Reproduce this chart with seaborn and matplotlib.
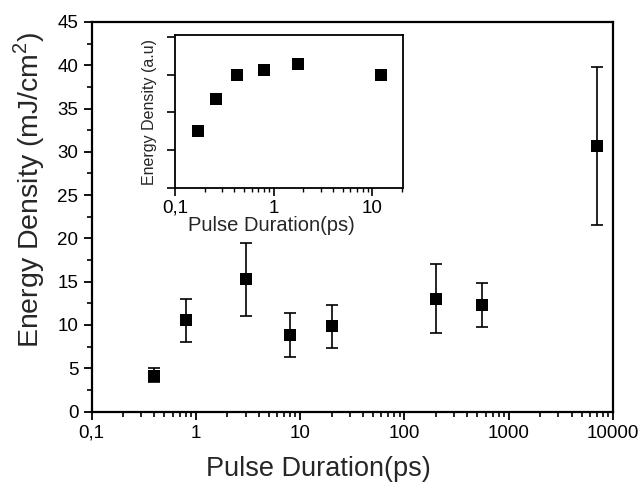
import numpy as np
import pandas as pd
import matplotlib
matplotlib.use("Agg")
import matplotlib.pyplot as plt
import seaborn as sns
from matplotlib.ticker import LogLocator, MultipleLocator, NullFormatter

# Main data
pulse_ps = [0.4, 0.8, 3, 8, 20, 200, 550, 7000]
energy = [4.15, 10.55, 15.3, 8.8, 9.85, 13.0, 12.25, 30.65]
err_low = [3.38, 8.03, 11.07, 6.33, 7.3, 9.1, 9.76, 21.58]
err_high = [5.03, 13.03, 19.5, 11.35, 12.3, 17.04, 14.8, 39.77]

# Inset data
inset_pulse = [0.17, 0.26, 0.43, 0.80, 1.75, 12.2]
inset_energy = [1.52, 2.36, 2.99, 3.12, 3.28, 3.00]

main_xticks = [0.1, 1, 10, 100, 1000, 10000]
main_xticklabels = ["0,1", "1", "10", "100", "1000", "10000"]
inset_xticks = [0.1, 1, 10]
inset_xticklabels = ["0,1", "1", "10"]

sns.set_style("ticks")
plt.rcParams['font.family'] = ['Liberation Sans', 'DejaVu Sans']
plt.rcParams['mathtext.fontset'] = 'custom'
plt.rcParams['mathtext.rm'] = 'Liberation Sans'

fig = plt.figure(figsize=(6.44, 4.91), dpi=100)
ax = fig.add_axes([0.1422, 0.1619, 0.8097, 0.7933])

df = pd.DataFrame({"x": pulse_ps, "y": energy,
                   "lo": err_low, "hi": err_high})
yerr = np.vstack([df["y"] - df["lo"], df["hi"] - df["y"]])
ax.errorbar(df["x"], df["y"], yerr=yerr, fmt="none", ecolor="black",
            elinewidth=1.2, capsize=4, capthick=1.2, zorder=2)
sns.scatterplot(data=df, x="x", y="y", marker="s", s=64, color="black",
                edgecolor="black", linewidth=0, ax=ax, zorder=3)
ax.set_xscale("log")
ax.set_xlim(0.1, 10000)
ax.set_ylim(0, 45)
ax.set_xticks(main_xticks)
ax.set_xticklabels(main_xticklabels)
ax.xaxis.set_minor_locator(LogLocator(base=10, subs=np.arange(2, 10)))
ax.xaxis.set_minor_formatter(NullFormatter())
ax.yaxis.set_major_locator(MultipleLocator(5))
ax.yaxis.set_minor_locator(MultipleLocator(2.5))
ax.tick_params(axis="both", which="major", direction="out", length=6,
               width=1.3, labelsize=13.5, color="black", labelcolor="black")
ax.tick_params(axis="both", which="minor", direction="out", length=3.5,
               width=1.2, color="black")
for s in ax.spines.values():
    s.set_visible(True)
    s.set_linewidth(1.6)
    s.set_color("black")
ax.set_xlabel("Pulse Duration(ps)", fontsize=19.5)
ax.xaxis.set_label_coords(0.434, -0.114)
ax.set_ylabel("Energy Density (mJ/cm$^2$)", fontsize=20.5)
ax.yaxis.set_label_coords(-0.0855, 0.569)

# Inset
axin = fig.add_axes([0.2717, 0.6171, 0.3540, 0.3116])
dfi = pd.DataFrame({"x": inset_pulse, "y": inset_energy})
sns.scatterplot(data=dfi, x="x", y="y", marker="s", s=70, color="black",
                edgecolor="black", linewidth=0, ax=axin, zorder=3)
axin.set_xscale("log")
axin.set_xlim(0.1, 20.5)
axin.set_ylim(0, 4.05)
axin.set_xticks(inset_xticks)
axin.set_xticklabels(inset_xticklabels)
axin.xaxis.set_minor_locator(LogLocator(base=10, subs=np.arange(2, 10)))
axin.xaxis.set_minor_formatter(NullFormatter())
axin.set_yticks([0, 1, 2, 3, 4])
axin.set_yticklabels([])
axin.tick_params(axis="both", which="major", direction="out", length=5.5,
                 width=1.2, labelsize=13.5, color="black", labelcolor="black")
axin.tick_params(axis="x", which="major", pad=2.8)
axin.tick_params(axis="both", which="minor", direction="out", length=3,
                 width=1.0, color="black")
for s in axin.spines.values():
    s.set_visible(True)
    s.set_linewidth(1.3)
    s.set_color("black")
axin.set_xlabel("Pulse Duration(ps)", fontsize=14.5)
axin.xaxis.set_label_coords(0.421, -0.183)
axin.set_ylabel("Energy Density (a.u)", fontsize=11.5)
axin.yaxis.set_label_coords(-0.08, 0.5)

fig.savefig("out.png", dpi=100)
